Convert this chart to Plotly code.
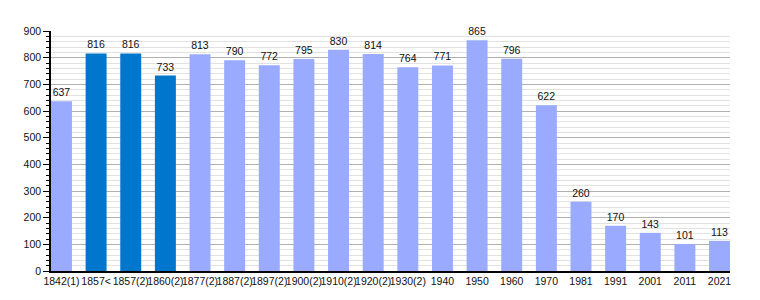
import plotly.graph_objects as go

categories = ["1842(1)", "1857<", "1857(2)", "1860(2)", "1877(2)", "1887(2)", "1897(2)",
              "1900(2)", "1910(2)", "1920(2)", "1930(2)", "1940", "1950", "1960", "1970",
              "1981", "1991", "2001", "2011", "2021"]
population = [637, 816, 816, 733, 813, 790, 772, 795, 830, 814, 764, 771, 865, 796, 622,
              260, 170, 143, 101, 113]
highlight = [False, True, True, True] + [False] * 16

LIGHT = "#99aaff"
DARK = "#0077cc"
colors = [DARK if h else LIGHT for h in highlight]
xs = list(range(len(categories)))
bw = 0.605
FONT = "Liberation Sans, Arial, sans-serif"

fig = go.Figure(go.Bar(
    x=xs, y=population, width=bw, marker=dict(color=colors, line=dict(width=0)),
    text=[str(v) for v in population], textposition="outside", cliponaxis=False,
    textangle=0,
    textfont=dict(family=FONT, size=10.5, color="#111"),
))

fig.update_layout(
    width=760, height=300,
    margin=dict(l=51, r=30, t=31, b=29, autoexpand=False),
    paper_bgcolor="white", plot_bgcolor="white",
    showlegend=False,
    font=dict(family=FONT, size=10.5, color="#111"),
)
fig.update_xaxes(
    tickmode="array", tickvals=xs, ticktext=categories, tickangle=0,
    range=[-bw / 2, len(xs) - 1 + bw / 2], automargin=False,
    showgrid=False, showline=True, linecolor="black", linewidth=1.5,
    ticks="", tickfont=dict(family=FONT, size=10.5, color="#111"), zeroline=False,
)
fig.update_yaxes(
    range=[0, 900], dtick=100, showgrid=True, gridcolor="#b0b0b0", gridwidth=1,
    showline=True, linecolor="black", linewidth=1.5, automargin=False,
    ticks="outside", ticklen=6, tickcolor="black", tickwidth=1,
    tickfont=dict(family=FONT, size=10.5, color="#111"), zeroline=False,
    minor=dict(dtick=20, ticks="outside", ticklen=3, tickcolor="black",
               showgrid=True, gridcolor="#e2e2e2", gridwidth=1),
)

fig.write_html("out.html")
